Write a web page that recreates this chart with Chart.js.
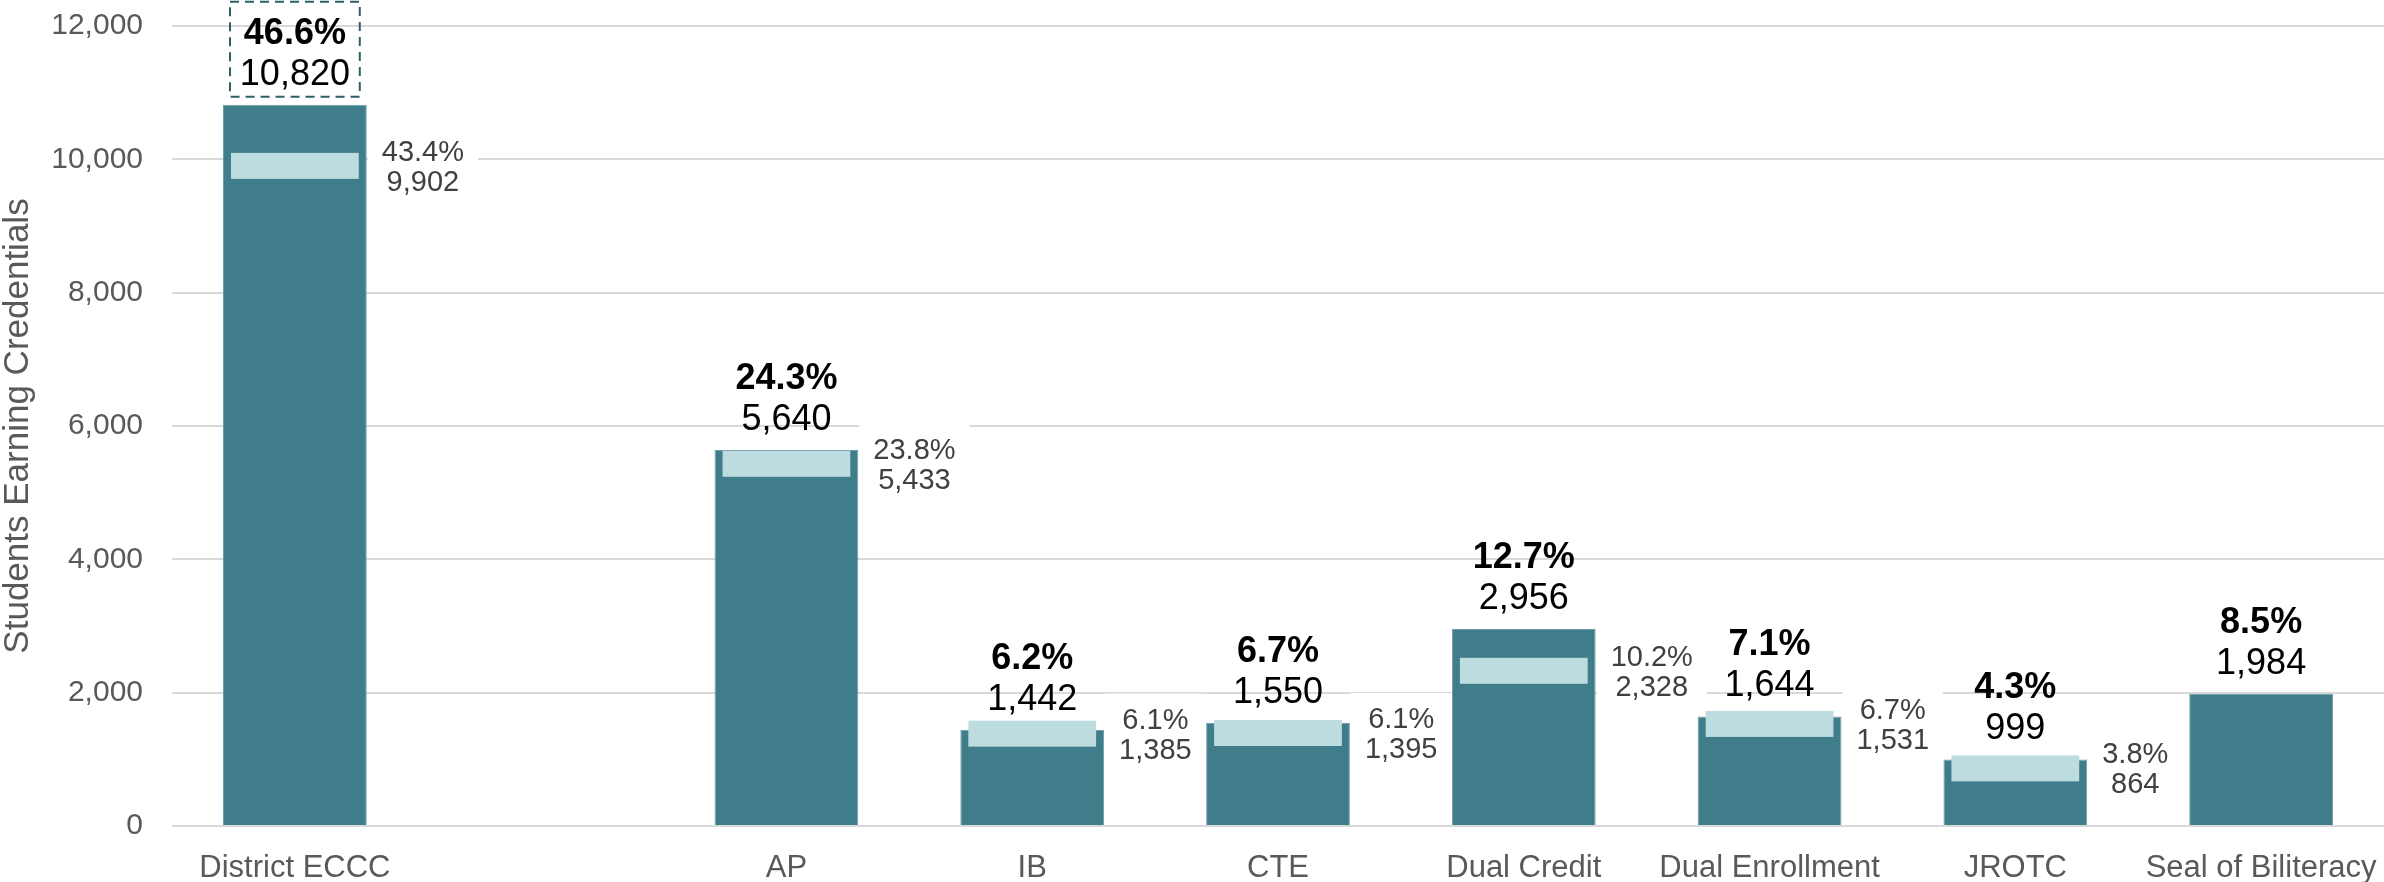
<!DOCTYPE html>
<html>
<head>
<meta charset="utf-8">
<script src="https://cdn.jsdelivr.net/npm/chart.js@4"></script>
<style>
    html, body { margin: 0; padding: 0; background: #FFFFFF; }
    #chart { display: block; }
</style>
</head>
<body>
<canvas id="chart" width="2384" height="882"></canvas>
<script>
// Kategorien (leere Kategorie = Abstand nach District ECCC)
const categories = ['District ECCC', '', 'AP', 'IB', 'CTE', 'Dual Credit', 'Dual Enrollment', 'JROTC', 'Seal of Biliteracy'];
const currentValues = [10820, null, 5640, 1442, 1550, 2956, 1644, 999, 1984];
const currentPct = ['46.6%', null, '24.3%', '6.2%', '6.7%', '12.7%', '7.1%', '4.3%', '8.5%'];
const priorValues = [9902, null, 5433, 1385, 1395, 2328, 1531, 864, null];
const priorPct = ['43.4%', null, '23.8%', '6.1%', '6.1%', '10.2%', '6.7%', '3.8%', null];
const yTicks = [0, 2000, 4000, 6000, 8000, 10000, 12000];

const FONT = '"Liberation Sans", Arial, sans-serif';
const BAR = '#3E7D89';
const BAND = '#BCDCE0';

const fmt = v => v.toLocaleString('en-US');

// Vorjahres-Markierung und Beschriftungen
const labelPlugin = {
    id: 'labels',
    afterDatasetsDraw(chart) {
        const ctx = chart.ctx;
        const meta = chart.getDatasetMeta(0);
        const y = chart.scales.y;
        ctx.save();
        meta.data.forEach((bar, i) => {
            if (currentValues[i] == null) return;
            const left = bar.x - bar.width / 2;
            const right = bar.x + bar.width / 2;
            const top = bar.y;

            // Vorjahr
            if (priorValues[i] != null) {
                const py = y.getPixelForValue(priorValues[i]);
                ctx.fillStyle = BAND;
                ctx.fillRect(left + 8, py - 13, bar.width - 16, 26);

                ctx.font = '29px ' + FONT;
                const w = Math.max(ctx.measureText(priorPct[i]).width, ctx.measureText(fmt(priorValues[i])).width);
                ctx.fillStyle = '#FFFFFF';
                ctx.fillRect(right + 1, py - 40, w + 28, 78);
                const cx = right + 15 + w / 2;
                ctx.fillStyle = '#404040';
                ctx.textAlign = 'center';
                ctx.textBaseline = 'middle';
                ctx.fillText(priorPct[i], cx, py - 13);
                ctx.fillText(fmt(priorValues[i]), cx, py + 17);
            }

            // aktuelles Jahr
            ctx.textAlign = 'center';
            ctx.textBaseline = 'middle';
            ctx.fillStyle = '#000000';
            ctx.font = 'bold 36px ' + FONT;
            ctx.fillText(currentPct[i], bar.x, top - 71);
            ctx.font = '36px ' + FONT;
            ctx.fillText(fmt(currentValues[i]), bar.x, top - 30);

            if (i === 0) {
                ctx.strokeStyle = '#2E5E66';
                ctx.lineWidth = 2;
                ctx.setLineDash([9, 6]);
                ctx.strokeRect(left + 7, top - 103, bar.width - 14, 95);
                ctx.setLineDash([]);
            }
        });
        ctx.restore();
    }
};

new Chart(document.getElementById('chart').getContext('2d'), {
    type: 'bar',
    data: {
        labels: categories,
        datasets: [{
            data: currentValues,
            backgroundColor: BAR,
            borderColor: '#6F9FA8',
            borderWidth: 1,
            categoryPercentage: 1,
            barPercentage: 0.585
        }]
    },
    options: {
        responsive: false,
        animation: false,
        layout: { padding: { top: 26, right: 0, bottom: 0, left: 0 } },
        plugins: {
            legend: { display: false },
            tooltip: { enabled: false }
        },
        scales: {
            x: {
                grid: { display: false },
                border: { display: false },
                ticks: { color: '#595959', font: { family: FONT, size: 31 }, padding: 16, maxRotation: 0, autoSkip: false },
                afterFit: axis => {
                    axis.height = 56;
                    axis.paddingLeft = 0;
                    axis.paddingRight = 0;
                }
            },
            y: {
                min: 0,
                max: 12000,
                afterBuildTicks: axis => { axis.ticks = yTicks.map(v => ({ value: v })); },
                ticks: { color: '#595959', font: { family: FONT, size: 30 }, padding: 29, callback: v => fmt(v) },
                grid: { color: '#D9D9D9', lineWidth: 2, drawTicks: false },
                border: { display: false },
                title: {
                    display: true,
                    text: 'Students Earning Credentials',
                    color: '#595959',
                    font: { family: FONT, size: 35, lineHeight: 1 },
                    padding: { top: 1, bottom: 0 }
                },
                afterFit: axis => {
                    axis.width = 172;
                    axis.paddingTop = 0;
                    axis.paddingBottom = 0;
                }
            }
        }
    },
    plugins: [labelPlugin]
});
</script>
</body>
</html>
